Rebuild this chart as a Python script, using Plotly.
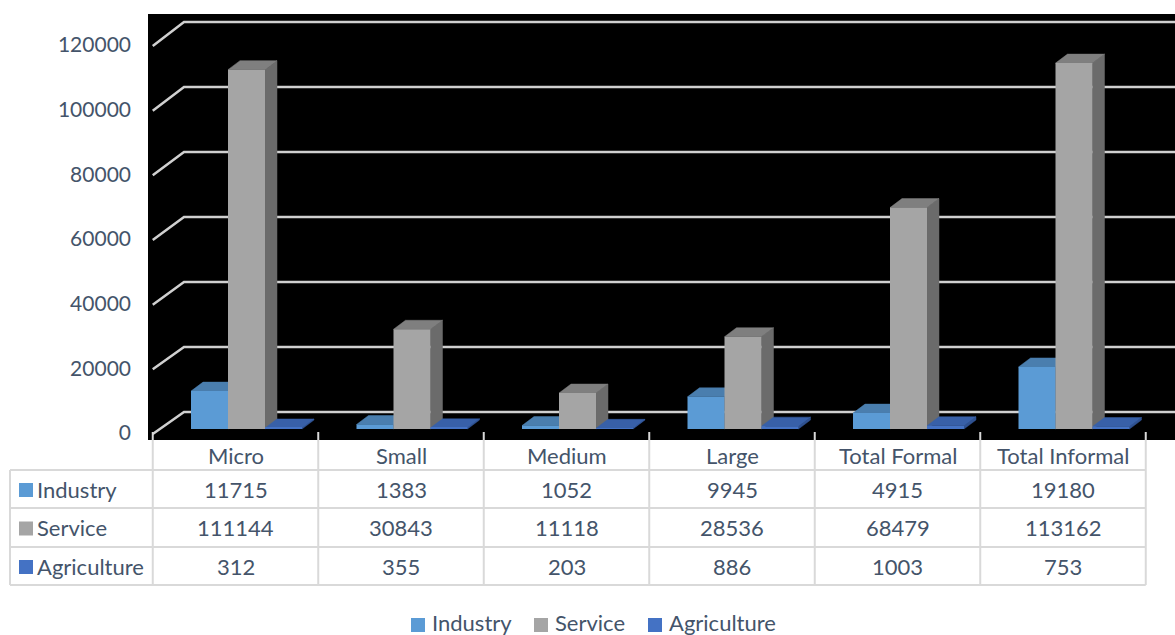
import plotly.graph_objects as go

# ---------------- data ----------------
categories = ["Micro", "Small", "Medium", "Large", "Total Formal", "Total Informal"]
series_names = ["Industry", "Service", "Agriculture"]
industry = [11715, 1383, 1052, 9945, 4915, 19180]
service = [111144, 30843, 11118, 28536, 68479, 113162]
agriculture = [312, 355, 203, 886, 1003, 753]
y_ticks = [0, 20000, 40000, 60000, 80000, 100000, 120000]
series_values = [industry, service, agriculture]

# ---------------- styles ----------------
front_colors = ["#5B9BD5", "#A5A5A5", "#4472C4"]
top_colors = ["#4A7EAE", "#7F7F7F", "#3860A8"]
side_colors = ["#3E6A94", "#6B6B6B", "#2F5190"]
text_color = "#44546A"
grid_color = "#D0D0D0"
table_line = "#D9D9D9"
FONT = "Lato"
TSIZE = 22

W, H = 1175, 635
L, R, T, B = 148, 1175, 14, 440          # plot area in pixels
unit_px = 165.5                           # pixels per category
cx0_px = 235.5                            # pixel centre of first category
y0_px = 433                               # pixel of value 0 (front)
val_per_px = 309.28

x_range = [(L - cx0_px) / unit_px, (R - cx0_px) / unit_px]
y_range = [(y0_px - B) * val_per_px, (y0_px - T) * val_per_px]

bar_w = 37 / unit_px
offsets = [-44.5 / unit_px + k * bar_w for k in range(3)]
base = 4 * val_per_px
ddx = 12 / unit_px
ddy = 9 * val_per_px


def xp(px):
    return (px - L) / (R - L)


def yp(py):
    return (B - py) / (B - T)


fig = go.Figure()

# ---------- back wall / side wall gridlines ----------
gx, gy = [], []
for v in y_ticks:
    back = 6495 + v * 1.0052
    gx += [-0.5, (184 - cx0_px) / unit_px, x_range[1], None]
    gy += [v - 300, back, back, None]
fig.add_trace(go.Scatter(x=gx, y=gy, mode="lines",
                         line=dict(color=grid_color, width=2.5),
                         hoverinfo="skip", showlegend=False))

# ---------- depth faces (sides + tops) ----------
for k, vals in enumerate(series_values):
    sx, sy, tx, ty = [], [], [], []
    for i, v in enumerate(vals):
        x0 = i + offsets[k]
        x1 = x0 + bar_w
        top = base + v
        sx += [x1, x1, x1 + ddx, x1 + ddx, x1, None]
        sy += [base, top, top + ddy, base + ddy, base, None]
        tx += [x0, x1, x1 + ddx, x0 + ddx, x0, None]
        ty += [top, top, top + ddy, top + ddy, top, None]
    fig.add_trace(go.Scatter(x=sx, y=sy, mode="lines", fill="toself",
                             fillcolor=side_colors[k],
                             line=dict(color=side_colors[k], width=0.5),
                             hoverinfo="skip", showlegend=False))
    fig.add_trace(go.Scatter(x=tx, y=ty, mode="lines", fill="toself",
                             fillcolor=top_colors[k],
                             line=dict(color=top_colors[k], width=0.5),
                             hoverinfo="skip", showlegend=False))

# ---------- front faces (bars, on overlaid axes so they sit on top) ----------
for k, vals in enumerate(series_values):
    fig.add_trace(go.Bar(x=list(range(len(categories))), y=vals, base=base,
                         width=bar_w, offset=offsets[k], name=series_names[k],
                         marker=dict(color=front_colors[k], line=dict(width=0)),
                         xaxis="x2", yaxis="y2", showlegend=False,
                         hovertemplate="%{y}<extra>" + series_names[k] + "</extra>"))

shapes = []
annotations = []

# ---------- data table ----------
col_edges = [cx0_px - unit_px / 2 + unit_px * j for j in range(len(categories) + 1)]
row_edges = [470, 508, 547, 585]
for xe in col_edges:
    shapes.append(dict(type="line", xref="paper", yref="paper",
                       x0=xp(xe), x1=xp(xe), y0=yp(432), y1=yp(585),
                       line=dict(color=table_line, width=2)))
shapes.append(dict(type="line", xref="paper", yref="paper",
                   x0=xp(10), x1=xp(10), y0=yp(470), y1=yp(585),
                   line=dict(color=table_line, width=2)))
for ye in row_edges:
    shapes.append(dict(type="line", xref="paper", yref="paper",
                       x0=xp(10), x1=xp(col_edges[-1]), y0=yp(ye), y1=yp(ye),
                       line=dict(color=table_line, width=2)))

for i, c in enumerate(categories):
    annotations.append(dict(text=c, xref="paper", yref="paper",
                            x=xp(cx0_px + unit_px * i), y=yp(455),
                            xanchor="center", yanchor="middle", showarrow=False,
                            font=dict(family=FONT, size=TSIZE, color=text_color)))
for k, name in enumerate(series_names):
    rc = (row_edges[k] + row_edges[k + 1]) / 2
    shapes.append(dict(type="rect", xref="paper", yref="paper",
                       x0=xp(19), x1=xp(33), y0=yp(rc - 6), y1=yp(rc + 8),
                       fillcolor=front_colors[k], line=dict(width=0)))
    annotations.append(dict(text=name, xref="paper", yref="paper",
                            x=xp(35), y=yp(rc), xanchor="left", yanchor="middle",
                            showarrow=False,
                            font=dict(family=FONT, size=TSIZE, color=text_color)))
    for i, v in enumerate(series_values[k]):
        annotations.append(dict(text=str(v), xref="paper", yref="paper",
                                x=xp(cx0_px + unit_px * i), y=yp(rc),
                                xanchor="center", yanchor="middle", showarrow=False,
                                font=dict(family=FONT, size=TSIZE, color=text_color)))

# ---------- bottom legend ----------
legend_sq = [411, 534, 648]
for k, name in enumerate(series_names):
    shapes.append(dict(type="rect", xref="paper", yref="paper",
                       x0=xp(legend_sq[k]), x1=xp(legend_sq[k] + 14),
                       y0=yp(618), y1=yp(632),
                       fillcolor=front_colors[k], line=dict(width=0)))
    annotations.append(dict(text=name, xref="paper", yref="paper",
                            x=xp(legend_sq[k] + 19), y=yp(622),
                            xanchor="left", yanchor="middle", showarrow=False,
                            font=dict(family=FONT, size=TSIZE, color=text_color)))

fig.update_layout(
    width=W, height=H,
    margin=dict(l=L, r=W - R, t=T, b=H - B, pad=0),
    paper_bgcolor="white",
    plot_bgcolor="black",
    barmode="overlay",
    showlegend=False,
    font=dict(family=FONT, color=text_color, size=21),
    xaxis=dict(range=x_range, showticklabels=False, showgrid=False,
               zeroline=False, showline=False, ticks="", fixedrange=True),
    yaxis=dict(range=y_range, tickvals=y_ticks, ticktext=[str(v) for v in y_ticks],
               showgrid=False, zeroline=False, showline=False, ticks="",
               ticklabelstandoff=16, tickfont=dict(family=FONT, size=21, color=text_color),
               fixedrange=True),
    xaxis2=dict(range=x_range, overlaying="x", visible=False, fixedrange=True),
    yaxis2=dict(range=y_range, overlaying="y", visible=False, fixedrange=True),
    shapes=shapes,
    annotations=annotations,
)

fig.write_html("out.html")
